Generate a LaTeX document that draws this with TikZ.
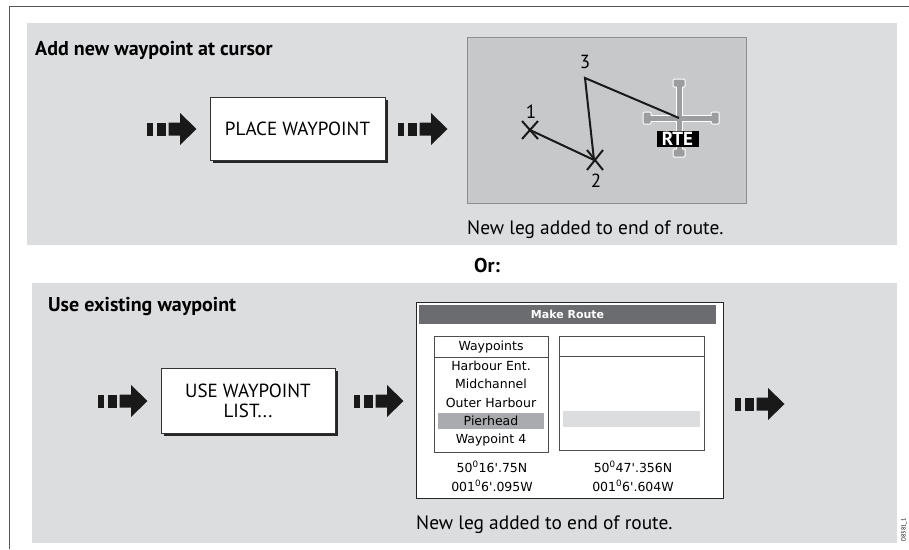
\documentclass[tikz,border=0pt]{standalone}
\usepackage{fontspec}
\setmainfont{PT Sans}
\newfontfamily\verd{DejaVu Sans}
\usetikzlibrary{shadows}
\definecolor{panel}{HTML}{DCDDDF}
\definecolor{mapgray}{HTML}{C7C8CA}
\definecolor{mapedge}{HTML}{8C8D8F}
\definecolor{barcol}{HTML}{6B6C6F}
\definecolor{selcol}{HTML}{A9ABAE}
\definecolor{curcol}{HTML}{9C9D9F}
\definecolor{framecol}{HTML}{555555}
\tikzset{
  flowarrow/.pic={
    \fill[black!90] (0,-6.5) rectangle (6,6.5);
    \fill[black!90] (9.5,-6.5) rectangle (19,6.5);
    \fill[black!90] (21.5,-6.5) -- (33,-6.5) -- (33,-16) -- (49.5,0) -- (33,16) -- (33,6.5) -- (21.5,6.5) -- cycle;
  },
  cmdbox/.style={draw=black!80, line width=0.8pt, fill=white, align=center,
    font=\fontsize{19}{21}\selectfont,
    drop shadow={shadow xshift=3pt, shadow yshift=-3pt, fill=black!85, opacity=1}},
  heading/.style={font=\bfseries\fontsize{20}{22}\selectfont, anchor=base west, inner sep=0},
  caption/.style={font=\fontsize{19.4}{21}\selectfont, anchor=base west, inner sep=0},
  lbl/.style={font=\fontsize{19}{21}\selectfont, inner sep=0},
  wptext/.style={font=\verd\fontsize{12.5}{14}\selectfont, inner sep=0},
  leg/.style={line width=2pt, black!90},
  xmark/.style={line width=2pt, black!90},
}
\begin{document}
\begin{tikzpicture}[x=1pt,y=-1pt]
\useasboundingbox (0,0) rectangle (909,549);
% outer frame
\draw[framecol, line width=1.5pt] (9.5,549) -- (9.5,6.5) -- (909,6.5);
% panels
\fill[panel] (27,23) rectangle (897,245);
\fill[panel] (32,283) rectangle (897,543);

% ---- top panel ----
\node[heading] (t1) at (35,55) {Add new waypoint at cursor};
\pic at (147,129) {flowarrow};
\node[cmdbox, minimum width=175pt, minimum height=63pt] (place) at (297.5,128.5) {PLACE WAYPOINT};
\pic at (398,129) {flowarrow};

% map
\node[draw=mapedge, fill=mapgray, line width=0.8pt, minimum width=279pt, minimum height=166pt, inner sep=0] (map) at (606.5,120) {};
\coordinate (w1) at (530,130);
\coordinate (w2) at (594,160);
\coordinate (w3) at (585,78);
\coordinate (cur) at (679,118);
% cursor
\draw[white, line width=7pt] (647,118) -- (715,118);
\draw[white, line width=7pt] (679,83) -- (679,153);
\foreach \p in {(647,118),(715,118)} {\fill[white, rounded corners=1.5pt] \p ++(-4.5,-6.5) rectangle ++(9,13);}
\foreach \p in {(679,83),(679,153)} {\fill[white, rounded corners=1.5pt] \p ++(-6.5,-4.5) rectangle ++(13,9);}
\draw[curcol, line width=5pt] (649,118) -- (713,118);
\draw[curcol, line width=5pt] (679,85) -- (679,151);
\foreach \p in {(647,118),(715,118)} {\fill[curcol, rounded corners=1pt] \p ++(-3.5,-5.5) rectangle ++(7,11);}
\foreach \p in {(679,83),(679,153)} {\fill[curcol, rounded corners=1pt] \p ++(-5.5,-3.5) rectangle ++(11,7);}
\node[fill=black, text=white, font=\bfseries\fontsize{19}{19}\selectfont, inner sep=0, minimum width=42pt, minimum height=16pt] (rte) at (677.5,139) {RTE};
% legs
\draw[leg] (w1) -- (w2) -- (w3) -- (cur);
\draw[xmark] (522,121) -- (538,139) (538,121) -- (522,139);
\draw[xmark] (587,150) -- (603,170) (603,150) -- (587,170);
\node[lbl] (n1) at (531,112) {1};
\node[lbl] (n2) at (596,181) {2};
\node[lbl] (n3) at (585,62) {3};
\node[caption] (c1) at (467,234) {New leg added to end of route.};

% ---- Or ----
\node[font=\bfseries\fontsize{20}{22}\selectfont, inner sep=0] (or) at (487,265) {Or:};

% ---- bottom panel ----
\node[heading] (t2) at (48,311) {Use existing waypoint};
\pic at (98,401) {flowarrow};
\node[cmdbox, minimum width=174pt, minimum height=65pt, font=\fontsize{19}{20}\selectfont] (uselist) at (248,400.5) {USE WAYPOINT\\LIST...};
\pic at (354,401) {flowarrow};

% Make Route window
\node[draw=black!85, line width=0.9pt, fill=white, minimum width=307pt, minimum height=196pt, inner sep=0] (win) at (569.5,400) {};
\node[fill=barcol, minimum width=297pt, minimum height=19pt, inner sep=0] (bar) at (567.5,314.5) {};
\node[text=white, font=\verd\bfseries\fontsize{11}{12}\selectfont, inner sep=0] (bartxt) at (567.5,314.5) {Make Route};
% left list
\fill[selcol] (438,413) rectangle (544,429);
\node[draw=black!70, line width=0.8pt, minimum width=114pt, minimum height=116pt, inner sep=0] (llist) at (491,394) {};
\draw[black!70, line width=0.8pt] (434,357) -- (548,357);
\node[wptext] (h1) at (491,347) {Waypoints};
\node[wptext] (r1) at (491,365.5) {Harbour Ent.};
\node[wptext] (r2) at (491,384) {Midchannel};
\node[wptext] (r3) at (491,402.5) {Outer Harbour};
\node[wptext] (r4) at (491,421) {Pierhead};
\node[wptext] (r5) at (491,440) {Waypoint 4};
% right list
\fill[panel] (563,411) rectangle (700,427);
\node[draw=black!70, line width=0.8pt, minimum width=145pt, minimum height=114pt, inner sep=0] (rlist) at (631.5,393) {};
\draw[black!70, line width=0.8pt] (559,356) -- (704,356);
% coordinates
\node[wptext] (la1) at (492,467) {50\textsuperscript{0}16'.75N};
\node[wptext] (lo1) at (492,486) {001\textsuperscript{0}6'.095W};
\node[wptext] (la2) at (633,467) {50\textsuperscript{0}47'.356N};
\node[wptext] (lo2) at (633,486) {001\textsuperscript{0}6'.604W};
\pic at (735,404) {flowarrow};
\node[caption] (c2) at (416,529) {New leg added to end of route.};
\node[rotate=90, font=\fontsize{6}{7}\selectfont, inner sep=0] (code) at (904,530) {D8381\_1};
\end{tikzpicture}
\end{document}
